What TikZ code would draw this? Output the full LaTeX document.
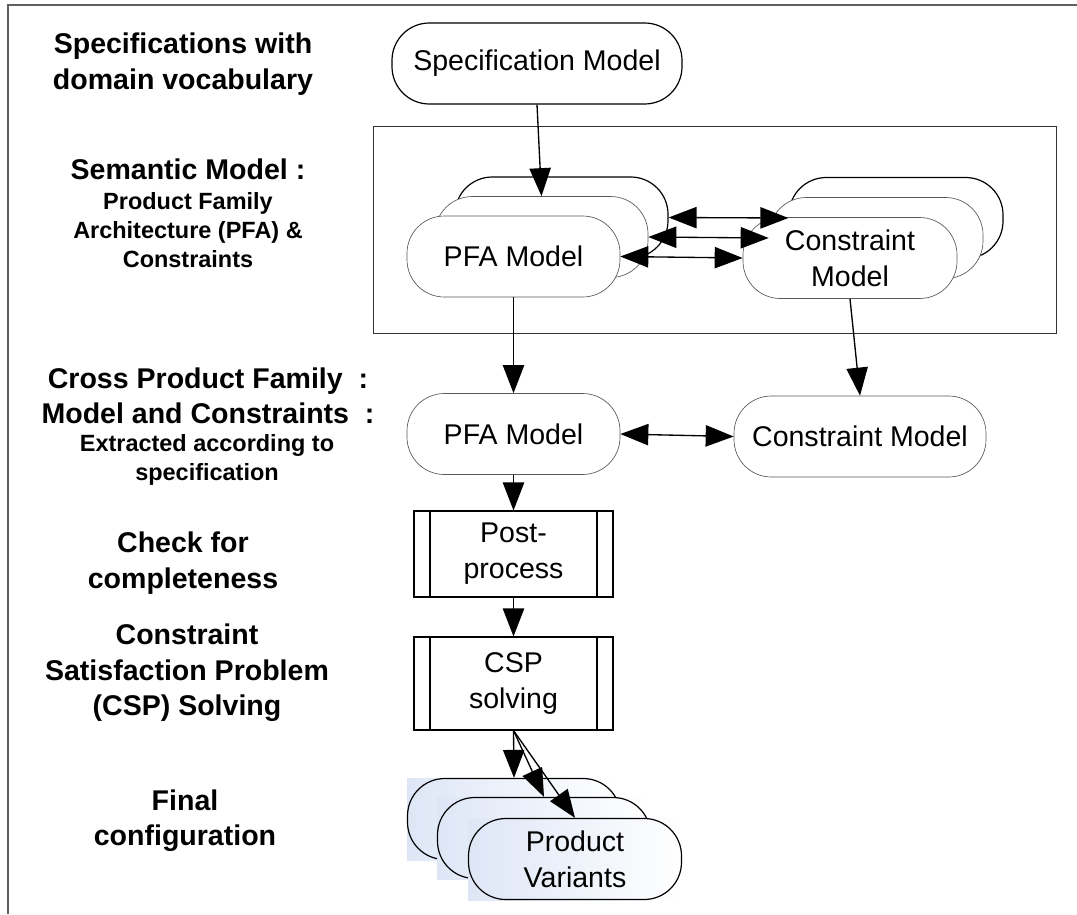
\documentclass[tikz,border=0pt]{standalone}
\usepackage{fontspec}
\setmainfont{Liberation Sans}
\usetikzlibrary{arrows.meta,calc,positioning}
\definecolor{framegray}{RGB}{96,96,96}
\definecolor{prodblue}{RGB}{222,230,246}

\begin{document}
\begin{tikzpicture}[x=0.75pt,y=-0.75pt,>={Triangle[length=21pt,width=16pt]},
  flow/.style={->,line width=1pt},
  both/.style={<->,line width=1pt},
  term/.style={draw,rectangle,rounded corners=28pt,align=center,inner sep=0pt,
    minimum width=159.75pt,minimum height=60.75pt,
    font=\fontsize{21.4}{27}\selectfont},
  termback/.style={term,fill=white,line width=.9pt},
  termfront/.style={term,fill=white,draw=black!65,line width=.5pt},
  proc/.style={draw,line width=.8pt,minimum width=149.25pt,align=center,
    font=\fontsize{21.4}{27}\selectfont,
    path picture={\draw[line width=.8pt]
      ([xshift=12pt]path picture bounding box.north west) --
      ([xshift=12pt]path picture bounding box.south west)
      ([xshift=-12pt]path picture bounding box.north east) --
      ([xshift=-12pt]path picture bounding box.south east);}},
  prodshade/.style={left color=prodblue,right color=white,draw=none},
  lab/.style={align=center,font=\bfseries\fontsize{21.4}{26.5}\selectfont},
  sublab/.style={align=center,font=\bfseries\fontsize{17.6}{21.5}\selectfont}]
\useasboundingbox (0,0) rectangle (1077,914);
% frame and semantic region
\draw[framegray,line width=1.1pt] (1077,5) -- (8,5) -- (8,914);
\draw[black!80,line width=.7pt] (373,126) rectangle (1056,333);

% labels on the left
\node[lab] (specL) at (183,64) {Specifications with\\domain vocabulary};
\node[lab] (semL) at (188,169) {Semantic Model :};
\node[sublab] (semS) at (188,230) {Product Family\\Architecture (PFA) \&\\Constraints};
\node[lab] (crossL) at (208,396) {Cross Product Family~~:\\Model and Constraints~~:};
\node[sublab] (crossS) at (207,460) {Extracted according to\\specification};
\node[lab] (checkL) at (183,563) {Check for\\completeness};
\node[lab] (cspL) at (187,673) {Constraint\\Satisfaction Problem\\(CSP) Solving};
\node[lab] (finalL) at (185,821) {Final\\configuration};

% specification
\node[termback,minimum width=217.5pt] (spec) at (537,63.5) {Specification Model};

% semantic model stacks
\coordinate (pfa) at (513.5,256.5);
\coordinate (cm) at (850,258);
\node[termback] (pfaC) at ($(pfa)+(48,-39)$) {};
\node[termfront] (pfaB) at ($(pfa)+(28,-19.5)$) {};
\node[termfront] (pfaA) at (pfa) {PFA Model};
\node[termback,minimum width=160.5pt] (cmC) at ($(cm)+(46,-40)$) {};
\node[termfront,minimum width=160.5pt] (cmB) at ($(cm)+(26,-20)$) {};
\node[termfront,minimum width=160.5pt] (cmA) at (cm) {Constraint\\Model};

% extracted models
\node[termfront] (pfa2) at (513.5,434) {PFA Model};
\node[termfront,minimum width=189pt] (cm2) at (860,436.5) {Constraint Model};

% processing
\node[proc,minimum height=64.5pt] (post) at (513.5,554) {Post-\\process};
\node[proc,minimum height=69.75pt] (csp) at (513.5,683.5) {CSP\\solving};

% product variants
\shade[prodshade] (407,778) rectangle (621,860);
\node[term,line width=.9pt] (pvC) at (514,819) {};
\shade[prodshade] (437,797) rectangle (651,879);
\node[term,line width=.9pt] (pvB) at (544,838) {};
\shade[prodshade] (468,818) rectangle (682,900);
\node[term,line width=.9pt] (pvA) at (575,859) {Product\\Variants};

% connectors
\draw[flow] (spec.south) -- (pfaB.north);
\draw[both] (pfaC.east) -- (cmC.west);
\draw[both] (pfaB.east) -- (cmB.west);
\draw[both] (pfaA.east) -- (cmA.west);
\draw[flow] (pfaA.south) -- (pfa2.north);
\draw[flow] (cmA.south) -- (cm2.north);
\draw[both] (pfa2.east) -- (cm2.west);
\draw[flow] (pfa2.south) -- (post.north);
\draw[flow] (post.south) -- (csp.north);
\draw[flow] (csp.south) -- (pvC.north);
\draw[flow] (csp.south) -- (pvB.north);
\draw[flow] (csp.south) -- (pvA.north);
\end{tikzpicture}
\end{document}
